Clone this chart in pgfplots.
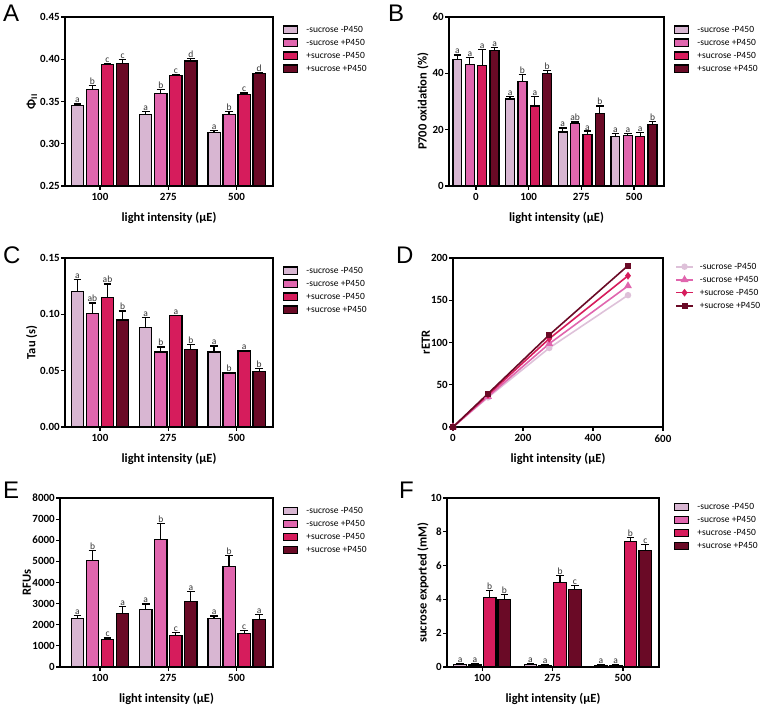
\documentclass[border=0pt]{standalone}
\usepackage{fontspec}
\setmainfont{Carlito}
\newfontfamily\letterfont{Liberation Sans}
\usepackage{pgfplots}
\usepackage{pgfplotstable}
\pgfplotsset{compat=1.18}

\definecolor{c1}{HTML}{D8B6D2}
\definecolor{c2}{HTML}{E066AE}
\definecolor{c3}{HTML}{D61C5C}
\definecolor{c4}{HTML}{6A0A26}

% g = group index; y,e,l = value, error, letter for each series
\pgfplotstableread{
g y1 e1 l1 y2 e2 l2 y3 e3 l3 y4 e4 l4
0 0.345 0.002 a 0.364 0.005 b 0.394 0.001 c 0.395 0.005 c
1 0.335 0.003 a 0.359 0.005 b 0.381 0.001 c 0.398 0.003 d
2 0.313 0.003 a 0.335 0.003 b 0.358 0.002 c 0.383 0.001 d
}\tA
\pgfplotstableread{
g y1 e1 l1 y2 e2 l2 y3 e3 l3 y4 e4 l4
0 45.0 1.5 a 43.2 2.5 a 42.8 5.8 a 48.1 1.1 a
1 30.9 0.8 a 37.1 2.6 b 28.4 3.3 a 39.9 1.1 b
2 19.2 1.4 a 22.1 0.6 ab 18.3 1.2 a 25.8 2.6 b
3 17.7 0.9 a 17.8 0.8 a 17.5 1.5 a 21.9 1.1 b
}\tB
\pgfplotstableread{
g y1 e1 l1 y2 e2 l2 y3 e3 l3 y4 e4 l4
0 0.120 0.011 a 0.101 0.009 ab 0.115 0.012 ab 0.095 0.008 b
1 0.0885 0.009 a 0.0666 0.0044 b 0.0988 0.0005 a 0.0686 0.0045 b
2 0.0666 0.0053 a 0.0479 0.0005 b 0.0675 0.0005 a 0.0491 0.003 b
}\tC
\pgfplotstableread{
g y1 e1 l1 y2 e2 l2 y3 e3 l3 y4 e4 l4
0 2280 170 a 5030 500 b 1320 50 c 2515 350 a
1 2735 250 a 6035 750 b 1493 140 c 3112 450 a
2 2279 140 a 4747 520 b 1603 110 c 2232 270 a
}\tE
\pgfplotstableread{
g y1 e1 l1 y2 e2 l2 y3 e3 l3 y4 e4 l4
0 0.15 0.08 a 0.12 0.06 a 4.13 0.40 b 4.00 0.28 b
1 0.15 0.07 a 0.10 0.06 a 4.99 0.41 b 4.60 0.21 c
2 0.08 0.04 a 0.10 0.05 a 7.43 0.23 b 6.88 0.39 c
}\tF

\newcommand{\barseries}[3]{%
  \addplot[ybar, bar shift=0pt, fill=c#2, draw=black, line width=1.2pt,
    error bars/.cd, y dir=plus, y explicit,
    error bar style={line width=1.2pt, black},
    error mark options={rotate=90, mark size=3.8pt, line width=1.2pt, black}]
    table[x expr=\thisrow{g}+(#3), y=y#2, y error=e#2] {#1};
}
\newcommand{\barlabels}[3]{%
  \addplot[draw=none, forget plot, nodes near coords, point meta=explicit symbolic,
    nodes near coords style={font=\fontsize{9.5}{10}\selectfont, text=black!80, anchor=south, inner sep=0.8pt}]
    table[x expr=\thisrow{g}+(#3), y expr=\thisrow{y#2}+\thisrow{e#2}, meta=l#2] {#1};
}
\newcommand{\allbars}[2]{%
  \barseries{#1}{1}{-1.5*#2}\barseries{#1}{2}{-0.5*#2}\barseries{#1}{3}{0.5*#2}\barseries{#1}{4}{1.5*#2}
  \barlabels{#1}{1}{-1.5*#2}\barlabels{#1}{2}{-0.5*#2}\barlabels{#1}{3}{0.5*#2}\barlabels{#1}{4}{1.5*#2}
  \legend{-sucrose -P450, -sucrose +P450, +sucrose -P450, +sucrose +P450}
}

\pgfplotsset{
  common/.style={
    scale only axis, anchor=south west, height=169pt,
    axis line style={line width=1.5pt},
    tick style={line width=1.2pt, black},
    major tick length=4pt,
    tick align=outside,
    xtick pos=bottom, ytick pos=left,
    ticklabel style={font=\bfseries\fontsize{11}{11}\selectfont},
    yticklabel style={inner sep=1pt},
    label style={font=\bfseries\fontsize{12.5}{14}\selectfont},
    xlabel style={at={(axis description cs:0.5,-0.191)}, anchor=center},
    xlabel={light intensity (µE)},
    /pgf/number format/assume math mode=true,
    /pgf/number format/1000 sep={},
    legend cell align=left,
    legend style={draw=none, fill=none, at={(1,1)}, anchor=north west,
      xshift=10pt, yshift=-7pt, font=\fontsize{9.5}{10}\selectfont,
      row sep=2pt, column sep=7pt, inner sep=0pt,
      nodes={inner sep=1pt, text height=7pt, text depth=2pt}},
  },
  ylabx/.style={ylabel style={at={(axis description cs:#1,0.5)}, anchor=center}},
  barax/.style={common,
    xtick={0,1,2}, xticklabels={100,275,500},
    bar width=0.18,
    legend image code/.code={\draw[##1] (0pt,-3.6pt) rectangle (14pt,3.6pt);},
  },
}

\begin{document}
\begin{tikzpicture}
\path[use as bounding box] (0,0) rectangle (762pt,707pt);

% Panel A
\begin{axis}[barax, at={(65pt,521pt)}, width=208pt,
  xmin=-0.512, xmax=2.533, ymin=0.25, ymax=0.45,
  ytick={0.25,0.30,0.35,0.40,0.45},
  yticklabel style={/pgf/number format/fixed, /pgf/number format/fixed zerofill, /pgf/number format/precision=2},
  ylabx=-0.159, ylabel={Φ\textsubscript{II}}]
\allbars{\tA}{0.22}
\end{axis}

% Panel B
\begin{axis}[barax, at={(449pt,521pt)}, width=215pt,
  xmin=-0.512, xmax=3.57, ymin=0, ymax=60,
  xtick={0,1,2,3}, xticklabels={0,100,275,500},
  bar width=0.17,
  ytick={0,20,40,60},
  ylabx=-0.121, ylabel={P700 oxidation (\%)}]
\allbars{\tB}{0.235}
\end{axis}

% Panel C
\begin{axis}[barax, at={(65pt,280pt)}, width=208pt,
  xmin=-0.512, xmax=2.533, ymin=0, ymax=0.15,
  ytick={0,0.05,0.10,0.15},
  yticklabel style={/pgf/number format/fixed, /pgf/number format/fixed zerofill, /pgf/number format/precision=2},
  ylabx=-0.160, ylabel={Tau (s)}]
\allbars{\tC}{0.22}
\end{axis}

% Panel D
\begin{axis}[common, at={(453pt,280pt)}, width=210pt, clip=false,
  xmin=0, xmax=600, ymin=0, ymax=200,
  xtick={0,200,400,600}, ytick={0,50,100,150,200},
  ylabx=-0.13, ylabel={rETR},
  legend style={xshift=2pt, yshift=4pt, column sep=5pt}]
\addplot[color=c1!85, line width=1.6pt, mark=*, mark size=2.4pt] coordinates {(0,0) (100,35) (275,93.5) (500,156)};
\addplot[color=c2, line width=1.6pt, mark=triangle*, mark size=3pt] coordinates {(0,0) (100,36) (275,98.6) (500,167)};
\addplot[color=c3, line width=1.6pt, mark=diamond*, mark size=2.6pt] coordinates {(0,0) (100,38) (275,104.5) (500,179)};
\addplot[color=c4, line width=1.6pt, mark=square*, mark size=2.2pt] coordinates {(0,0) (100,39.5) (275,109) (500,191)};
\legend{-sucrose -P450, -sucrose +P450, +sucrose -P450, +sucrose +P450}
\end{axis}

% Panel E
\begin{axis}[barax, at={(60pt,40pt)}, width=213pt,
  xmin=-0.586, xmax=2.533, ymin=0, ymax=8000,
  ytick={0,1000,...,8000},
  ylabx=-0.155, ylabel={RFUs}]
\allbars{\tE}{0.22}
\end{axis}

% Panel F
\begin{axis}[barax, at={(447pt,40pt)}, width=212pt,
  xmin=-0.5, xmax=2.51, ymin=0, ymax=10,
  ytick={0,2,4,6,8,10},
  legend style={xshift=5pt, yshift=4pt},
  ylabx=-0.113, ylabel={sucrose exported (mM)}]
\allbars{\tF}{0.21}
\end{axis}

% panel letters
\node[anchor=north west, inner sep=0pt, font=\letterfont\fontsize{24}{24}\selectfont] at (3pt,702pt) {A};
\node[anchor=north west, inner sep=0pt, font=\letterfont\fontsize{24}{24}\selectfont] at (388pt,702pt) {B};
\node[anchor=north west, inner sep=0pt, font=\letterfont\fontsize{24}{24}\selectfont] at (3pt,460pt) {C};
\node[anchor=north west, inner sep=0pt, font=\letterfont\fontsize{24}{24}\selectfont] at (396pt,460pt) {D};
\node[anchor=north west, inner sep=0pt, font=\letterfont\fontsize{24}{24}\selectfont] at (3pt,225pt) {E};
\node[anchor=north west, inner sep=0pt, font=\letterfont\fontsize{24}{24}\selectfont] at (399pt,225pt) {F};
\end{tikzpicture}
\end{document}
